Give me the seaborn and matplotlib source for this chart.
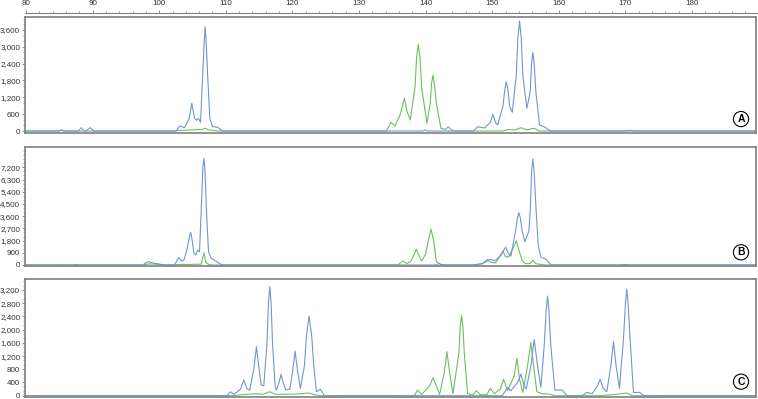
import numpy as np
import pandas as pd
import matplotlib
matplotlib.use("Agg")
import matplotlib.pyplot as plt
from matplotlib.ticker import FuncFormatter, AutoMinorLocator, MultipleLocator
import seaborn as sns

# ---------------- data ----------------
# Panel A
a_blue_x = [80.0, 85.0, 85.3, 85.6, 89.0, 89.6, 90.2, 102.5, 103.1, 103.8, 104.5, 104.9, 105.3, 105.6,
            105.9, 106.2, 106.5, 106.75, 106.9, 107.05, 107.3, 107.6, 108.0, 108.8, 109.5, 139.6, 139.9,
            140.3, 147.2, 147.8, 148.8, 149.7, 150.1, 150.5, 150.8, 151.6, 151.9, 152.1, 152.35, 152.6,
            153.0, 153.6, 153.85, 154.1, 154.35, 154.6, 155.2, 155.7, 155.9, 156.1, 156.3, 156.55, 157.1,
            157.9, 158.7, 189.6]
a_blue_y = [0, 0, 35, 0, 0, 118, 0, 0, 178, 118, 450, 987, 450, 380,
            450, 310, 1860, 3160, 3717, 3160, 1860, 450, 160, 130, 0, 0, 40,
            0, 0, 153, 107, 300, 595, 300, 214, 880, 1500, 1757, 1500, 900,
            666, 1960, 3330, 3920, 3330, 1960, 809, 1400, 2380, 2805, 2380, 1400, 214,
            140, 0, 0]
a_green_x = [80.0, 85.0, 85.4, 85.8, 87.8, 88.3, 88.8, 102.0, 104.0, 106.5, 106.9, 107.3, 108.0, 109.0,
             134.1, 134.8, 135.4, 136.2, 136.8, 137.2, 137.7, 138.4, 138.65, 138.9, 139.15, 139.4, 140.2,
             140.7, 140.9, 141.1, 141.3, 141.6, 142.3, 143.0, 143.4, 143.9, 144.5, 151.5, 152.3, 153.5,
             154.3, 155.2, 156.3, 157.0, 169.5, 170.5, 172.0, 189.6]
a_green_y = [0, 0, 40, 0, 0, 118, 0, 0, 30, 60, 100, 50, 20, 0,
             0, 310, 180, 600, 1165, 700, 392, 1550, 2630, 3090, 2630, 1550, 274,
             1000, 1700, 1996, 1700, 1000, 96, 60, 153, 30, 0, 0, 50, 40,
             118, 40, 100, 0, 0, 25, 0, 0]

# Panel B
b_blue_x = [80.0, 97.5, 98.3, 99.0, 100.0, 101.0, 102.3, 102.9, 103.4, 103.7, 104.2, 104.5, 104.7, 104.9,
            105.2, 105.5, 105.8, 106.05, 106.3, 106.55, 106.7, 106.85, 107.1, 107.4, 107.8, 108.3, 108.9,
            109.5, 141.5, 142.0, 142.6, 147.0, 148.5, 149.8, 150.4, 151.3, 152.0, 152.5, 152.8, 153.5,
            153.8, 154.0, 154.2, 154.5, 154.9, 155.5, 155.7, 155.9, 156.1, 156.3, 156.6, 156.9, 157.3,
            158.1, 158.8, 189.6]
b_blue_y = [0, 0, 250, 150, 60, 0, 0, 540, 295, 350, 1200, 2000, 2410, 2000,
            900, 737, 1105, 980, 3930, 7200, 7863, 7200, 3930, 1000, 494, 368, 150,
            0, 0, 100, 0, 0, 100, 420, 300, 700, 1304, 800, 663, 2500,
            3500, 3855, 3500, 2500, 1717, 2500, 3906, 6800, 7812, 6800, 3906, 1500, 567,
            420, 0, 0]
b_green_x = [80.0, 85.0, 85.3, 85.6, 87.0, 87.5, 88.0, 97.5, 98.5, 100.0, 101.0, 103.0, 106.3, 106.7,
             107.0, 107.4, 108.0, 135.8, 136.6, 137.2, 137.8, 138.2, 138.6, 139.0, 139.4, 140.0, 140.4,
             140.8, 141.2, 141.6, 142.2, 143.0, 147.0, 148.5, 149.3, 149.8, 150.5, 151.2, 151.6, 152.0,
             152.5, 153.2, 153.6, 154.0, 154.5, 155.0, 155.7, 156.1, 156.5, 157.5, 158.0, 169.0, 170.0,
             171.0, 189.6]
b_green_y = [0, 0, 40, 0, 0, 40, 0, 0, 80, 50, 0, 30, 60, 906,
             200, 40, 0, 0, 295, 100, 300, 700, 1157, 700, 295, 800, 1800,
             2653, 1800, 250, 50, 0, 0, 80, 420, 200, 150, 700, 1032, 600,
             612, 1300, 1791, 1100, 300, 100, 100, 370, 100, 30, 0, 0, 40,
             0, 0]

# Panel C
c_blue_x = [80.0, 110.2, 110.7, 111.2, 112.2, 112.7, 113.2, 113.6, 114.2, 114.6, 115.0, 115.3, 115.7,
            116.2, 116.4, 116.6, 116.8, 117.0, 117.4, 117.6, 118.0, 118.3, 118.6, 119.0, 119.6, 120.0,
            120.4, 120.8, 121.2, 121.8, 122.1, 122.5, 122.9, 123.2, 123.6, 124.2, 124.8, 151.5, 152.3,
            152.8, 153.8, 154.3, 154.8, 155.1, 155.8, 156.3, 156.8, 157.3, 157.8, 158.1, 158.3, 158.5,
            158.8, 159.4, 160.5, 161.2, 163.5, 164.2, 165.0, 165.8, 166.2, 166.6, 167.2, 167.8, 168.2,
            168.6, 169.1, 169.7, 170.0, 170.2, 170.4, 170.7, 171.2, 172.1, 172.8, 189.6]
c_blue_y = [0, 0, 121, 40, 200, 475, 200, 172, 800, 1484, 800, 324, 300,
            1650, 2800, 3300, 2800, 1650, 300, 172, 400, 648, 400, 172, 200, 700,
            1353, 700, 224, 900, 1800, 2412, 1800, 900, 121, 194, 0, 0, 254,
            150, 400, 648, 300, 200, 900, 1707, 900, 254, 1500, 2600, 3018, 2600,
            1500, 172, 172, 0, 0, 100, 60, 300, 496, 250, 121, 900, 1635,
            900, 224, 1700, 2800, 3230, 2800, 1700, 100, 100, 0, 0]
c_green_x = [80.0, 111.0, 112.5, 114.6, 115.5, 116.6, 117.5, 120.4, 122.5, 123.5, 124.5, 138.3, 138.8,
             139.4, 140.6, 141.1, 141.6, 142.1, 142.8, 143.2, 143.6, 144.1, 145.0, 145.2, 145.4, 145.6,
             145.8, 146.3, 147.1, 147.6, 148.2, 149.2, 149.7, 150.3, 151.2, 151.7, 152.3, 153.3, 153.7,
             154.1, 154.6, 155.3, 155.8, 156.2, 156.7, 157.5, 158.5, 159.5, 166.0, 168.0, 170.2, 171.0,
             189.6]
c_green_y = [0, 0, 30, 60, 40, 120, 40, 50, 80, 20, 0, 0, 172,
             40, 300, 545, 300, 40, 700, 1332, 700, 60, 1300, 2100, 2422, 2100,
             1300, 60, 30, 151, 30, 30, 224, 60, 200, 496, 150, 600, 1132,
             500, 100, 900, 1616, 900, 120, 60, 50, 0, 0, 30, 80, 0,
             0]

panel_labels = ["A", "B", "C"]
y_ticks = [list(range(0, 3601, 600)), list(range(0, 7201, 900)), list(range(0, 3201, 400))]
y_limits = [(-71, 4063), (-74, 8696), (-39, 3533)]
x_ticks = list(range(80, 181, 10))
x_limits = (79.85, 189.6)

traces = [
    (a_blue_x, a_blue_y, a_green_x, a_green_y),
    (b_blue_x, b_blue_y, b_green_x, b_green_y),
    (c_blue_x, c_blue_y, c_green_x, c_green_y),
]

# ---------------- style ----------------
sns.set_style("white")
plt.rcParams["font.family"] = ["Liberation Sans Narrow", "Liberation Sans", "DejaVu Sans"]

BLUE = "#7095d8"
GREEN = "#6cc05c"
SPINE = "#7f7f7f"
TXT = "#333333"

W, H = 758, 399
fig = plt.figure(figsize=(W / 100, H / 100), dpi=100)

def frac_rect(left_px, top_px, right_px, bottom_px):
    return [left_px / W, 1 - bottom_px / H, (right_px - left_px) / W, (bottom_px - top_px) / H]

panel_px = [(25, 17, 756, 133), (25, 147, 756, 266), (25, 279, 756, 397)]
label_pos = [(0.9795, 0.12), (0.9795, 0.115), (0.9795, 0.13)]

fmt = FuncFormatter(lambda v, p: f"{int(v):,}")

for i, (bx, by, gx, gy) in enumerate(traces):
    ax = fig.add_axes(frac_rect(*panel_px[i]))
    df = pd.concat([
        pd.DataFrame({"size": gx, "rfu": gy, "dye": "green"}),
        pd.DataFrame({"size": bx, "rfu": by, "dye": "blue"}),
    ], ignore_index=True)
    sns.lineplot(data=df, x="size", y="rfu", hue="dye", hue_order=["green", "blue"],
                 palette={"green": GREEN, "blue": BLUE}, sort=False, estimator=None,
                 legend=False, linewidth=0.8, ax=ax)
    ax.set_xlim(*x_limits)
    ax.set_ylim(*y_limits[i])
    ax.set_xlabel("")
    ax.set_ylabel("")
    ax.set_xticks([])
    ax.set_yticks(y_ticks[i])
    ax.yaxis.set_major_formatter(fmt)
    ax.yaxis.set_minor_locator(AutoMinorLocator(3))
    ax.tick_params(axis="y", which="major", direction="out", length=2.5, width=0.6,
                   color=SPINE, labelsize=5.8, labelcolor=TXT, pad=1.0, left=True)
    ax.tick_params(axis="y", which="minor", direction="out", length=1.3, width=0.5,
                   color=SPINE, left=True)
    for s in ax.spines.values():
        s.set_visible(True)
        s.set_color(SPINE)
        s.set_linewidth(1.2)
    lx, ly = label_pos[i]
    ax.text(lx, ly, panel_labels[i], transform=ax.transAxes, ha="center", va="center",
            fontsize=7.5, fontweight="bold", color="black",
            family=["Liberation Sans", "DejaVu Sans"],
            bbox=dict(boxstyle="circle,pad=0.25", fc="white", ec="black", lw=0.8))

# top scale axis
tax = fig.add_axes([25 / W, 1 - 13 / H, (757 - 25) / W, 0.0])
tax.set_xlim(79.85, 189.75)
tax.set_ylim(0, 1)
tax.set_yticks([])
tax.set_xticks(x_ticks)
tax.xaxis.set_minor_locator(MultipleLocator(2))
tax.xaxis.tick_top()
tax.tick_params(axis="x", which="major", direction="out", length=2.5, width=0.6,
                color=SPINE, labelsize=5.8, labelcolor=TXT, pad=1.5, top=True, bottom=False)
tax.tick_params(axis="x", which="minor", direction="out", length=1.3, width=0.5,
                color=SPINE, top=True, bottom=False)
for name, s in tax.spines.items():
    s.set_visible(name == "top")
    s.set_color(SPINE)
    s.set_linewidth(0.8)

fig.savefig("out.png", dpi=100)
